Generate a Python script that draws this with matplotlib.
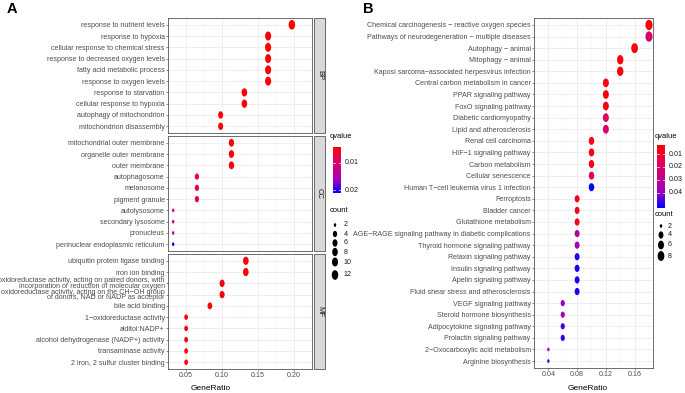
import matplotlib
matplotlib.use('Agg')

import matplotlib.pyplot as plt
import numpy as np
from matplotlib.colors import LinearSegmentedColormap, Normalize
from matplotlib.patches import Rectangle
from matplotlib.path import Path

plt.rcParams['font.family'] = ['Liberation Sans', 'DejaVu Sans']

W, H = 685, 393

# ---- panel A : GO enrichment ----
bp_terms = ['response to nutrient levels', 'response to hypoxia',
            'cellular response to chemical stress', 'response to decreased oxygen levels',
            'fatty acid metabolic process', 'response to oxygen levels',
            'response to starvation', 'cellular response to hypoxia',
            'autophagy of mitochondrion', 'mitochondrion disassembly']
bp_ratio = [0.197, 0.164, 0.164, 0.164, 0.164, 0.164, 0.131, 0.131, 0.098, 0.098]
bp_count = [12, 10, 10, 10, 10, 10, 8, 8, 6, 6]
bp_q = [0.0041, 0.0045, 0.0045, 0.0045, 0.0045, 0.0045, 0.0046, 0.0046, 0.0047, 0.0047]

cc_terms = ['mitochondrial outer membrane', 'organelle outer membrane', 'outer membrane',
            'autophagosome', 'melanosome', 'pigment granule', 'autolysosome',
            'secondary lysosome', 'pronucleus', 'perinuclear endoplasmic reticulum']
cc_ratio = [0.113, 0.113, 0.113, 0.065, 0.065, 0.065, 0.032, 0.032, 0.032, 0.032]
cc_count = [7, 7, 7, 4, 4, 4, 2, 2, 2, 2]
cc_q = [0.0043, 0.0043, 0.0043, 0.0080, 0.0080, 0.0080, 0.0092, 0.0135, 0.0135, 0.0211]

mf_terms = ['ubiquitin protein ligase binding', 'iron ion binding',
            'oxidoreductase activity, acting on paired donors, with\n'
            'incorporation or reduction of molecular oxygen',
            'oxidoreductase activity, acting on the CH\u2212OH group\n'
            'of donors, NAD or NADP as acceptor',
            'bile acid binding', '1\u2212oxidoreductase activity', 'alditol:NADP+',
            'alcohol dehydrogenase (NADP+) activity', 'transaminase activity',
            '2 iron, 2 sulfur cluster binding']
mf_ratio = [0.133, 0.133, 0.100, 0.100, 0.083, 0.050, 0.050, 0.050, 0.050, 0.050]
mf_count = [8, 8, 6, 6, 5, 3, 3, 3, 3, 3]
mf_q = [0.0045, 0.0045, 0.0046, 0.0046, 0.0047, 0.0048, 0.0048, 0.0048, 0.0048, 0.0048]

# ---- panel B : KEGG enrichment ----
kegg_terms = ['Chemical carcinogenesis \u2212 reactive oxygen species',
              'Pathways of neurodegeneration \u2212 multiple diseases',
              'Autophagy \u2212 animal', 'Mitophagy \u2212 animal',
              'Kaposi sarcoma\u2212associated herpesvirus infection',
              'Central carbon metabolism in cancer', 'PPAR signaling pathway',
              'FoxO signaling pathway', 'Diabetic cardiomyopathy', 'Lipid and atherosclerosis',
              'Renal cell carcinoma', 'HIF\u22121 signaling pathway', 'Carbon metabolism',
              'Cellular senescence', 'Human T\u2212cell leukemia virus 1 infection',
              'Ferroptosis', 'Bladder cancer', 'Glutathione metabolism',
              'AGE\u2212RAGE signaling pathway in diabetic complications',
              'Thyroid hormone signaling pathway', 'Relaxin signaling pathway',
              'Insulin signaling pathway', 'Apelin signaling pathway',
              'Fluid shear stress and atherosclerosis', 'VEGF signaling pathway',
              'Steroid hormone biosynthesis', 'Adipocytokine signaling pathway',
              'Prolactin signaling pathway', '2\u2212Oxocarboxylic acid metabolism',
              'Arginine biosynthesis']
kegg_ratio = [0.18, 0.18, 0.16, 0.14, 0.14, 0.12, 0.12, 0.12, 0.12, 0.12,
              0.10, 0.10, 0.10, 0.10, 0.10, 0.08, 0.08, 0.08, 0.08, 0.08,
              0.08, 0.08, 0.08, 0.08, 0.06, 0.06, 0.06, 0.06, 0.04, 0.04]
kegg_count = [9, 9, 8, 7, 7, 6, 6, 6, 6, 6, 5, 5, 5, 5, 5, 4, 4, 4, 4, 4,
              4, 4, 4, 4, 3, 3, 3, 3, 2, 2]
kegg_q = [0.0029, 0.0220, 0.0040, 0.0045, 0.0050, 0.0055, 0.0058, 0.0060, 0.0170, 0.0210,
          0.0062, 0.0065, 0.0068, 0.0160, 0.0520, 0.0070, 0.0072, 0.0090, 0.0320, 0.0370,
          0.0490, 0.0500, 0.0500, 0.0500, 0.0400, 0.0370, 0.0470, 0.0480, 0.0370, 0.0480]

# red -> blue, interpolated like ggplot (Lab space)
cmap = LinearSegmentedColormap.from_list(
    'qv', ['#FF0000', '#E7004F', '#C80088', '#9900C2', '#0000FF'])

# dots look slightly squashed horizontally in the original
theta = np.linspace(0, 2 * np.pi, 64)
dot = Path(np.column_stack([0.68 * np.cos(theta), np.sin(theta)]), closed=True)

GREY_TXT = '#4D4D4D'
LBL = 5.1


def dot_size(c, cmin, cmax, dmin, dmax):
    c = np.asarray(c, dtype=float)
    d = dmin + (dmax - dmin) * np.sqrt((c - cmin) / (cmax - cmin))
    return (d * 0.72) ** 2


def px_axes(fig, x0, y0, x1, y1):
    return fig.add_axes([x0 / W, 1 - y1 / H, (x1 - x0) / W, (y1 - y0) / H])


def draw_panel(ax, terms, ratio, count, q, xlim, xticks, norm, sizes, show_x):
    n = len(terms)
    y = np.arange(n)
    ax.scatter(ratio, y, s=sizes(count), c=q, cmap=cmap, norm=norm,
               marker=dot, linewidths=0, zorder=3)
    ax.set_ylim(n - 0.4, -0.6)
    ax.set_xlim(*xlim)
    ax.set_yticks(y)
    ax.set_yticklabels(terms, fontsize=LBL, color=GREY_TXT, linespacing=0.72)
    ax.set_xticks(xticks)
    step = xticks[1] - xticks[0]
    ax.set_xticks([t - step / 2 for t in xticks] + [xticks[-1] + step / 2], minor=True)
    ax.grid(which='major', color='#EBEBEB', lw=0.55)
    ax.grid(which='minor', axis='x', color='#F4F4F4', lw=0.35)
    ax.set_axisbelow(True)
    for sp in ax.spines.values():
        sp.set_color('#555555')
        sp.set_linewidth(0.6)
    ax.tick_params(axis='both', which='major', length=1.6, width=0.4, color='#333333',
                   pad=0.8, labelsize=LBL, labelcolor=GREY_TXT)
    ax.tick_params(which='minor', length=0)
    if show_x:
        ax.set_xticklabels([f'{t:.2f}' for t in xticks])
    else:
        ax.tick_params(axis='x', which='major', length=0, labelbottom=False)


fig = plt.figure(figsize=(W / 100, H / 100), dpi=100)
over = fig.add_axes([0, 0, 1, 1], zorder=5)
over.set_xlim(0, W)
over.set_ylim(H, 0)
over.axis('off')

# ---- panel A ----
qa = bp_q + cc_q + mf_q
norm_a = Normalize(min(qa), max(qa))
size_a = lambda c: dot_size(c, 2, 12, 3.6, 9.6)
facets = [('BP', bp_terms, bp_ratio, bp_count, bp_q, 18, 133),
          ('CC', cc_terms, cc_ratio, cc_count, cc_q, 136, 251),
          ('MF', mf_terms, mf_ratio, mf_count, mf_q, 254, 369)]
for i, (name, terms, ratio, count, q, y0, y1) in enumerate(facets):
    ax = px_axes(fig, 168, y0, 312, y1)
    draw_panel(ax, terms, ratio, count, q, (0.0248, 0.2063),
               [0.05, 0.10, 0.15, 0.20], norm_a, size_a, i == 2)
    over.add_patch(Rectangle((314, y0), 11, y1 - y0, facecolor='#D9D9D9',
                             edgecolor='#555555', lw=0.6))
    over.text(319.5, (y0 + y1) / 2, name, rotation=270, ha='center', va='center',
              fontsize=5.6, color='#1A1A1A')

# ---- panel B ----
norm_b = Normalize(min(kegg_q), max(kegg_q))
size_b = lambda c: dot_size(c, 2, 9, 3.6, 10.4)
axb = px_axes(fig, 534, 18, 653, 368)
draw_panel(axb, kegg_terms, kegg_ratio, kegg_count, kegg_q, (0.0336, 0.1856),
           [0.04, 0.08, 0.12, 0.16], norm_b, size_b, True)

# panel letters and axis titles
over.text(12, 9, 'A', fontsize=10.5, fontweight='bold', ha='center', va='center')
over.text(368, 9, 'B', fontsize=10.5, fontweight='bold', ha='center', va='center')
over.text(211, 388, 'GeneRatio', fontsize=6, ha='center', va='center')
over.text(588, 388, 'GeneRatio', fontsize=6, ha='center', va='center')


def colorbar(x0, y0, x1, y1, norm, ticks, lx):
    cax = px_axes(fig, x0, y0, x1, y1)
    grad = np.linspace(norm.vmin, norm.vmax, 200).reshape(-1, 1)
    cax.imshow(grad, cmap=cmap, norm=norm, aspect='auto',
               extent=(0, 1, norm.vmax, norm.vmin))
    cax.set_ylim(norm.vmax, norm.vmin)
    cax.set_xlim(0, 1)
    cax.axis('off')
    for t in ticks:
        cax.plot([0, 0.2], [t, t], color='white', lw=0.5)
        cax.plot([0.8, 1], [t, t], color='white', lw=0.5)
        ty = y0 + (t - norm.vmin) / (norm.vmax - norm.vmin) * (y1 - y0)
        over.text(lx, ty, f'{t:.2f}', fontsize=LBL, color='#1A1A1A', va='center', ha='left')


def size_legend(x, ys, counts, sizes, lx):
    over.scatter([x] * len(counts), ys, s=sizes(counts), color='black',
                 marker=dot, linewidths=0)
    for yy, c in zip(ys, counts):
        over.text(lx, yy, str(c), fontsize=LBL, color='#1A1A1A', va='center', ha='left')


# legends A
over.text(330, 137, 'qvalue', fontsize=5.4, va='center', ha='left')
colorbar(333, 147, 341, 193, norm_a, [0.01, 0.02], 345)
over.text(330, 211, 'count', fontsize=5.4, va='center', ha='left')
size_legend(335, [225, 234, 243, 252, 262, 275], [2, 4, 6, 8, 10, 12], size_a, 344)

# legends B
over.text(655, 137, 'qvalue', fontsize=5.4, va='center', ha='left')
colorbar(657, 145, 665, 208, norm_b, [0.01, 0.02, 0.03, 0.04], 669)
over.text(655, 215, 'count', fontsize=5.4, va='center', ha='left')
size_legend(661, [226, 235, 245, 256], [2, 4, 6, 8], size_b, 668)

fig.savefig('out.png', dpi=100)
plt.close(fig)
